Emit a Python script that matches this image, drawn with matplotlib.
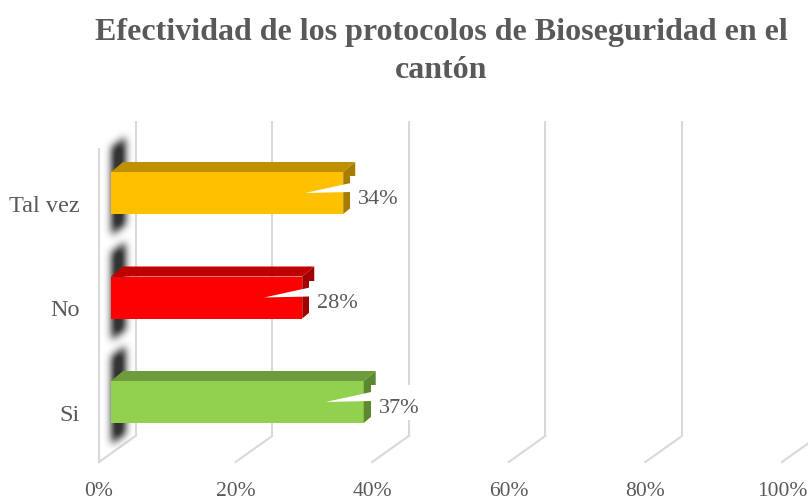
import numpy as np
import matplotlib
matplotlib.use("Agg")
import matplotlib.pyplot as plt
from matplotlib.patches import Polygon, Rectangle

# ---------------- data ----------------
categories = ["Si", "No", "Tal vez"]
values = [37, 28, 34]                      # percent
front_colors = ["#92D050", "#FF0000", "#FFC000"]
top_colors = ["#6E9B3C", "#C00000", "#BF9000"]
side_colors = ["#5C8830", "#A20000", "#A67D00"]
x_ticks = [0, 20, 40, 60, 80, 100]
tick_labels = ["0%", "20%", "40%", "60%", "80%", "100%"]
title_lines = ["Efectividad de los protocolos de Bioseguridad en el", "cantón"]

# ---------------- layout ----------------
W, H = 808, 502
TXT = "#595959"
GRID = "#D9D9D9"
plt.rcParams['font.family'] = ['Liberation Serif', 'DejaVu Serif']

fig = plt.figure(figsize=(W / 100, H / 100), dpi=100)
ax = fig.add_axes([0, 0, 1, 1])
PXX = 6.83      # px per percent
X0 = 111.0      # px of 0 % on bar front plane
PXY = 104.5     # px per category step
Y0 = 403.0      # px (from top) of the first category centre
ax.set_xlim(-X0 / PXX, (W - X0) / PXX)
ax.set_ylim((Y0 - H) / PXY, Y0 / PXY)
ax.axis('off')


def dx(px):
    return px / PXX


def dy(px):          # positive = upwards
    return px / PXY


def ypx(p):          # pixel row (from top) -> data y
    return (Y0 - p) / PXY


# ---------------- walls / gridlines ----------------
back_off = dx(24.5)
front_off = dx(-12)
y_back_top, y_back_bot, y_front = ypx(122), ypx(437), ypx(463)
for t in x_ticks:
    ax.plot([t + back_off, t + back_off], [y_back_bot, y_back_top],
            color=GRID, lw=1.5, zorder=1, solid_capstyle='butt')
    ax.plot([t + back_off, t + front_off], [y_back_bot, y_front],
            color=GRID, lw=1.5, zorder=1)
# side wall front edge
ax.plot([front_off, front_off], [y_front, ypx(150)], color=GRID, lw=1.5, zorder=1)

# ---------------- bars ----------------
depth_x, depth_y = dx(12), dy(10)
half = dy(42) / 2


def gauss_blur(a, s):
    r = int(3 * s) + 1
    k = np.exp(-0.5 * (np.arange(-r, r + 1) / s) ** 2)
    k /= k.sum()
    a = np.apply_along_axis(lambda m: np.convolve(m, k, mode='same'), 0, a)
    a = np.apply_along_axis(lambda m: np.convolve(m, k, mode='same'), 1, a)
    return a


for i, (cat, v) in enumerate(zip(categories, values)):
    # soft shadow of the bar end (px grid relative to bar centre)
    xs = np.arange(X0 - 30, X0 + 45)
    ys = np.arange(-85, 80)
    XX, YY = np.meshgrid(xs, ys)
    rel = XX - (X0 + 1)
    slope = rel * 10 / 13
    m = ((rel >= 0) & (rel <= 13) & (YY >= -46 - slope) & (YY <= 42 - slope)).astype(float)
    m = gauss_blur(m, 4.0)
    rgba = np.zeros(m.shape + (4,))
    rgba[..., 3] = np.clip(m * 0.95, 0, 0.8)
    ax.imshow(rgba, extent=[dx(xs[0] - X0), dx(xs[-1] - X0), i - dy(ys[-1]), i - dy(ys[0])],
              origin='upper', aspect='auto', zorder=2, interpolation='bilinear')

    ax.add_patch(Rectangle((0, i - half), v, 2 * half, facecolor=front_colors[i],
                           edgecolor='none', zorder=4))
    ax.add_patch(Polygon([(0, i + half), (v, i + half), (v + depth_x, i + half + depth_y),
                          (depth_x, i + half + depth_y)], closed=True,
                         facecolor=top_colors[i], edgecolor='none', zorder=4))
    ax.add_patch(Polygon([(v, i - half), (v, i + half), (v + depth_x, i + half + depth_y),
                          (v + depth_x, i - half + depth_y)], closed=True,
                         facecolor=side_colors[i], edgecolor='none', zorder=4))

    # data label callout
    ax.add_patch(Rectangle((v + dx(7), i - dy(18)), dx(57), dy(35), facecolor='white',
                           edgecolor='none', zorder=5))
    ax.add_patch(Polygon([(v - dx(38), i), (v + dx(7.5), i + dy(10)), (v + dx(7.5), i + dy(1))],
                         closed=True, facecolor='white', edgecolor='none', zorder=5))
    ax.text(v + dx(15), i - dy(10), f"{v}%", ha='left', va='baseline',
            fontsize=16, color=TXT, zorder=6)

    # category label
    ax.text(dx(-31), i - dy(18), cat, ha='right', va='baseline',
            fontsize=17.5, color=TXT, zorder=6)

# tick labels
for t, lab in zip(x_ticks, tick_labels):
    ax.text(t + front_off, ypx(496.5), lab, ha='center', va='baseline',
            fontsize=15.5, color=TXT, zorder=6)

# ---------------- title ----------------
t1 = fig.text(441.5 / W, 1 - 40 / H, title_lines[0], ha='center', va='baseline',
              fontsize=20, fontweight='bold', color=TXT)
fig.canvas.draw()
wpx = t1.get_window_extent().width
fs = 20 * 693 / wpx
t1.set_fontsize(fs)
fig.text(441.5 / W, 1 - 78 / H, title_lines[1], ha='center', va='baseline',
         fontsize=fs, fontweight='bold', color=TXT)

fig.savefig("out.png", dpi=100)
